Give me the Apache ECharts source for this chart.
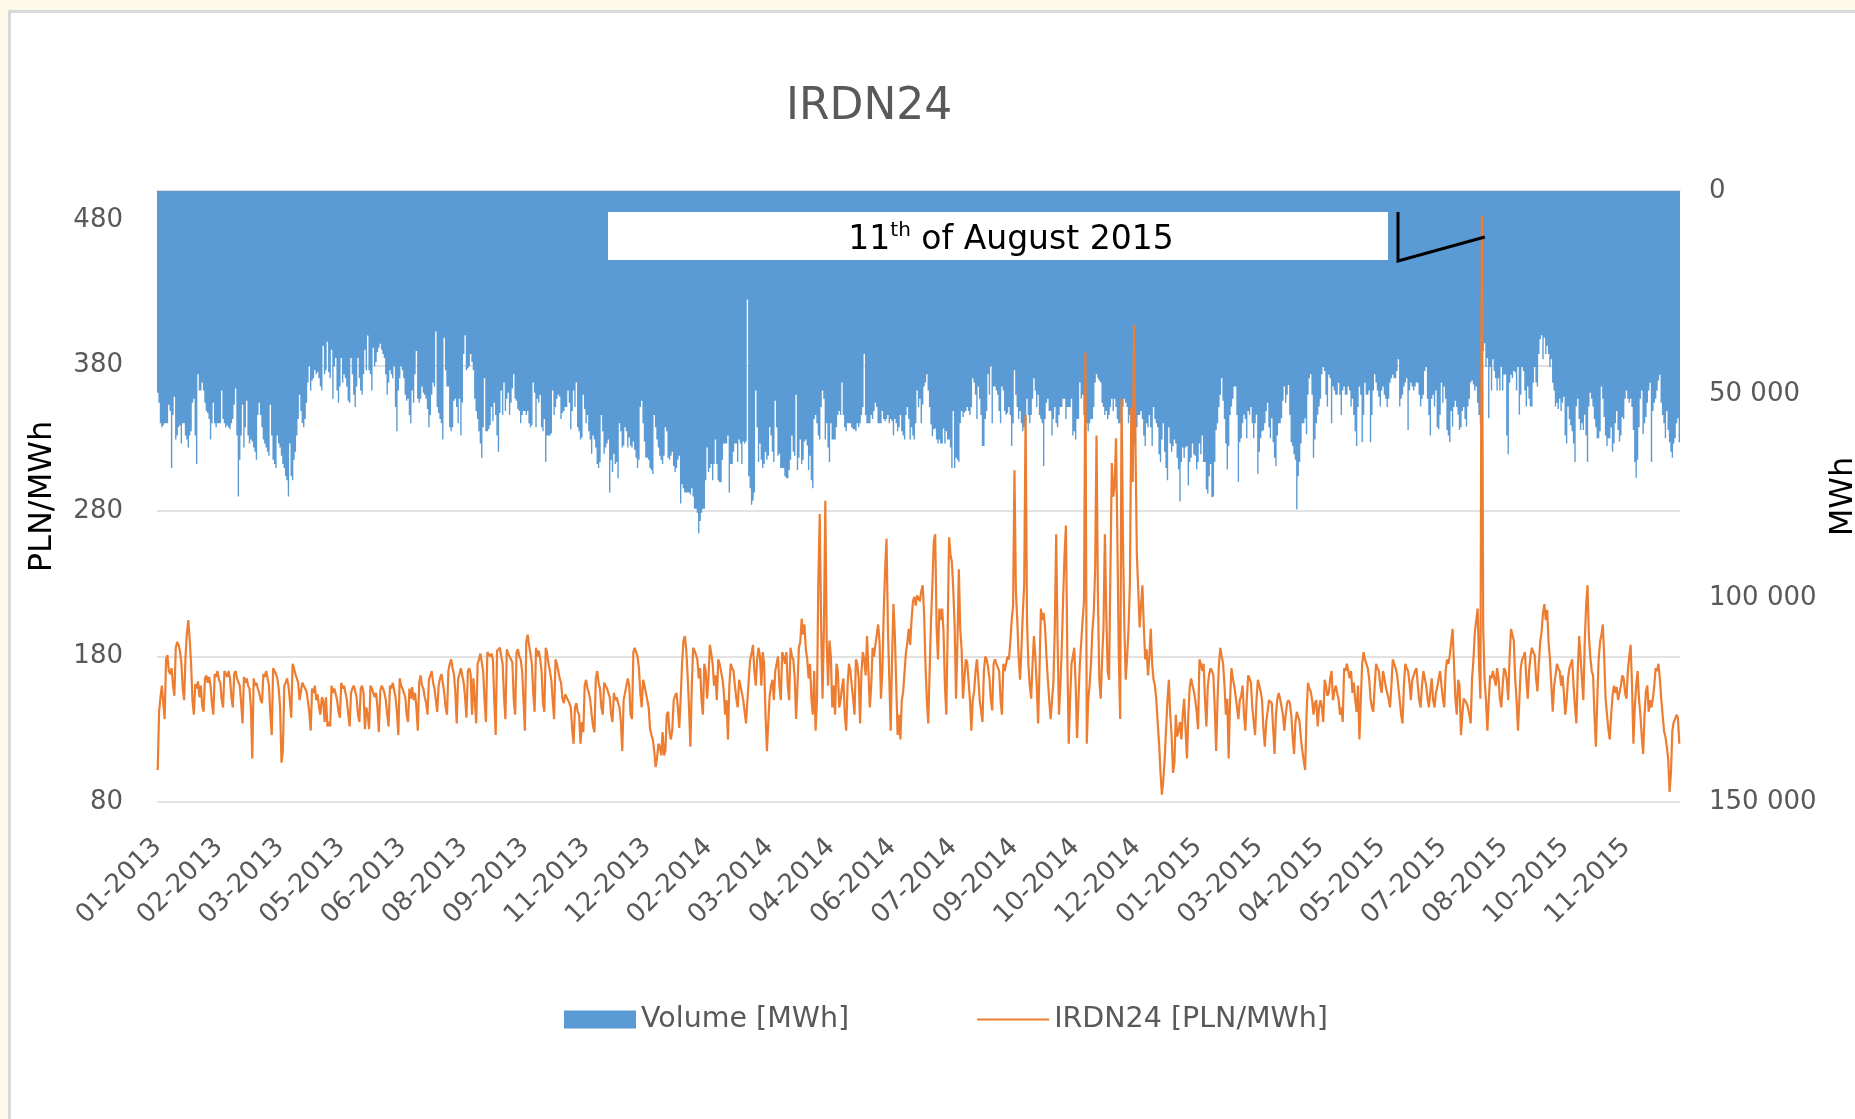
<!DOCTYPE html>
<html><head><meta charset="utf-8">
<script src="https://cdn.jsdelivr.net/npm/echarts@6/dist/echarts.min.js"></script>
<style>
html,body{margin:0;padding:0;background:#fdf9e9;overflow:hidden;width:1855px;height:1119px}
#frame{position:absolute;left:8px;top:10px;width:1900px;height:1200px;background:#fff;border-top:3px solid #d9d9d9;border-left:3px solid #d9d9d9}
#chart{position:absolute;left:0;top:0;width:1855px;height:1119px}
</style></head><body><div id="frame"></div><div id="chart"></div>
<script>
// Daily IRDN24 price [PLN/MWh]
const price2013 = [
102,142,152,160,148,137,
178,181,170,168,172,160,153,
186,190,188,184,176,158,150,
180,196,205,192,175,150,140,
161,158,163,152,160,146,142,
165,167,162,166,160,148,140,
168,166,170,164,162,150,145,
170,168,166,170,165,152,145,
168,170,165,164,160,148,134,
166,162,165,160,158,145,110,
165,160,162,158,155,150,148,
168,166,170,165,160,140,126,
172,170,168,165,158,145,107,
115,160,162,165,160,150,138,
175,172,168,165,162,150,151,
162,160,158,156,155,142,129,
158,155,160,150,154,145,140,
152,150,135,152,132,135,132,
160,155,158,154,150,142,138,
162,158,160,155,150,140,132,
155,158,160,156,152,140,135,
158,160,155,130,145,140,130,
160,158,155,152,155,145,128,
156,160,158,155,150,140,132,
160,158,162,157,152,142,126,
165,160,158,155,152,140,135,
158,151,159,150,155,145,129,
162,167,160,158,152,148,140,
164,165,170,162,158,150,142,
160,165,168,162,155,145,140,
170,175,178,172,168,155,134,
165,168,172,167,162,152,138,
170,172,168,140,165,150,134,
175,178,182,176,170,150,135,
183,184,180,182,178,150,126,
184,183,186,180,175,152,137,
185,182,180,178,176,150,140,
183,185,180,178,170,150,129,
190,195,188,182,175,155,142,
186,180,184,178,170,148,142,
186,182,175,170,164,150,137,
178,175,170,165,162,151,148,
154,152,150,148,145,130,120,
145,148,142,140,120,135,128,
160,164,158,155,150,140,132,
128,165,170,162,158,145,140,
162,160,158,155,152,140,135,
155,150,152,148,145,135,115,
150,155,160,165,160,140,137,
183,186,187,180,172,155,145,
164,160,155,150,145,130,126,
123,115,104,110,120,118,112,
128,112
];
const price2014 = [
115,140,142,128,123,130,150,153,155,145,131,151,175,191,194,185,167,145,118,160,186,184,183,178,165,172,150,140,175,170,151,
165,188,182,175,160,167,150,178,175,170,165,156,140,150,123,160,175,172,170,160,151,145,164,160,155,150,142,134,
150,165,178,182,188,170,160,178,186,180,160,183,175,140,115,135,153,160,164,150,170,175,180,160,150,183,180,175,183,160,150,
186,180,178,165,137,160,186,190,206,195,202,185,178,165,175,151,140,170,129,150,232,278,200,151,200,287,190,160,191,180,
145,160,140,175,170,145,150,159,165,140,129,160,175,170,160,151,140,178,175,165,134,170,183,178,167,194,170,145,160,186,180,
188,195,202,190,151,170,210,240,261,200,165,129,180,216,195,160,126,140,123,150,156,170,183,190,199,188,205,218,221,215,
222,220,218,225,229,210,175,150,134,170,205,230,259,264,200,178,213,205,213,197,160,140,200,262,250,245,226,200,151,190,240,
199,185,151,165,178,176,175,150,129,150,156,170,178,165,150,151,135,170,180,178,173,165,150,143,175,178,175,176,170,150,140,
175,170,175,180,178,190,205,215,308,225,205,180,164,185,210,230,346,205,175,160,151,175,194,180,160,134,170,213,205,210,
200,180,164,150,137,150,162,200,264,190,140,160,186,220,250,270,180,120,150,175,180,186,160,124,150,175,190,205,218,389,120,
150,160,175,197,210,240,332,220,164,151,178,200,264,210,170,164,240,313,290,297,330,260,180,137,357,260,200,164,180,199,
230,351,300,408,324,250,226,200,215,229,200,178,185,167,180,199,175,164,160,150,134,120,100,85,95,110,130,150,164,140,125
];
const price2015 = [
100,107,140,125,129,135,123,140,151,130,110,140,159,165,160,156,150,142,130,178,175,170,175,150,132,160,168,172,170,167,145,
115,150,175,186,180,175,160,140,151,110,150,172,165,160,153,145,137,150,153,160,140,129,150,167,165,162,145,135,
126,150,164,160,156,150,130,118,135,142,150,151,148,130,113,140,151,155,151,150,140,129,140,148,150,148,140,125,113,135,142,
142,135,123,115,108,102,140,162,158,156,150,140,148,150,132,145,150,145,135,164,160,153,155,165,170,150,156,160,155,151,
140,145,135,172,170,175,175,165,170,155,162,150,142,160,123,150,175,183,178,175,172,165,151,145,142,160,175,172,170,160,155,
170,165,159,155,151,145,160,178,175,172,168,167,150,140,134,160,175,172,170,162,150,164,165,170,172,160,150,145,160,170,
170,160,151,145,156,165,150,145,155,159,165,170,160,151,145,170,178,175,181,190,199,175,151,140,164,160,126,140,151,150,148,
145,140,134,165,178,197,205,213,175,151,483,200,164,150,129,150,167,165,170,170,160,172,165,151,145,160,172,170,164,150,180,
199,195,191,165,150,129,150,172,178,180,183,165,151,170,180,186,183,181,165,156,175,190,197,210,216,205,212,190,178,160,
142,160,167,175,172,170,160,167,155,140,150,165,172,175,178,160,145,134,170,194,180,164,150,190,215,229,194,180,170,167,140,
118,150,178,190,195,202,180,151,140,130,123,140,153,160,155,159,150,151,160,167,165,155,151,170,180,188,160,120,145,160,
170,151,140,125,113,140,156,160,142,150,145,151,160,172,170,175,165,151,140,129,125,118,110,87,100,129,135,137,140,138,120
];
// Daily traded volume, thousands of MWh
const volume2013k = [
49.5,52,57,58,57.5,57,57,57,52.5,54,68,55,50.5,61,60,58,57.5,62,57,57,60,61,63,60,59,52,51,60,67,45,49,
49,47,49,52,54,54.5,56,61,57,52,57,58,57,57,57,49,56,57,58,57.5,58,58.5,57,56,52.5,48.5,60,75,
66,60,52.5,63,58,51.5,60,62,61,61.5,63,64,66,55,52,55,58,61,62,63,64,65,52.5,60,66,67,68,60,62,63,65,
67,68,70,71,75,62,70,71,66,64,60,56,50,54,57,58,56,52,47,43,49,46.5,46,44,45,44.5,46,48,49,38,
45,44,37,44.5,46,39,51,43,41,49,52,48,41,47,45,46,48,51.5,52,41,45,50,53,48,41,46,49,50,45,39,44,
35.5,44,45,49,38.5,43,42,39.5,38.5,37.5,39,40,41,45,50,47,44,45,46,43,53,59,49,46,43,44,46,50,51.5,51,
55,57,49,52,45,39.3,51,52,51,48,49.5,50,51,53.5,58,55,50,47,48,34.5,53,54.5,56,57,61,36,44,48,48,58,59,
58,51.5,51,53,57,51,60,52,40,35.4,44,43.5,43,40,42,44,51,54,56,59,62,65.5,58,46,59,59,58.5,57.5,53,56.5,52,
55,60,64,54.5,49,55,47,54,51,49.5,55,52,48.5,45,51,51.5,53.5,54,57,55,54,54,55,54,57,58,57.5,47,49.5,58,
51,52,50,58,59,56,66.5,60,60,60,59.5,49,55,53,51,50,50.5,56,54.5,54,53,53,49,52,58.5,54,49,53,47,58,59,
61,60.5,50,53.5,57,55,59,61,64.5,60,61,63,67,68,66.5,55,59,64.5,63,62,61,74,66,69,64.5,67,66.5,70.5,57,59,
63,62.5,58,59,63,60.5,62.5,63,61.5,63.5,65.5,68,66,53,51.5,57,61.5,65.5,65.5,66,68,68.5,69.5,55,58,61,63,65,66,67,65
];
const volume2014k = [
58,59,65.5,66,65,64,67.5,69,68,66,65,76.7,72,73,74,74,74,74,74.5,73,75,78,78,79,84,81,79,78,78,71,63,
69,68,67,71,67,61,67,71,71.5,71.5,66,62,62,62,60,74,67,67,64,62,62,66.5,61,62,67,61.5,62,61.5,
26.7,70,73,77,76,74,49,58,66.5,62,66,68,67,64,66,65,58,60,64,66.5,51.5,58,65,64.5,68,68,68,70,70.5,70.5,68.5,
66,60,64,65,50,68.5,65.5,61,67,66,61.5,61,62.5,68.5,65,71,73,56,55,57,60,61,53,49,51,61,57,63,66.5,57,
61,61,61,58,55,54,55,47,55,58,59,57,57,57,58,58.5,58.5,59,57,58,57,55,53,40,55,57,57,57,55,56,54,
52,53,57,57,57,54,56,56.5,56,55,57,56,56.5,60,56,57,59,58,55,59,60,61,55,53,56,61,58,60,61,57,
49,53,51,57,52.5,48,47,45,49,53,57.3,60.2,58.5,58.3,61,62,61,62,62,58.3,62,59,61,61,63,68,54,68,65.5,66,66.5,
57,54,55.5,54.4,54,53,54,55,53,46,47,50,56,48,51,55,62.6,62.6,56,54,45,50,43,57,48,48,49,50,54,57,48,
49,54,55,54.5,53,55,62.6,57,44,50,53,56,54,57,59,58,57,51,55,57,55,51,46,49,53,50,55,56,57,67.5,
56,52,51,54,54,60,56,53,57,58,55,53,53,51,51,56,53,53,53,51,60,59,61,56,56,47,51,50,55,57,57,
59,57,56,56,53,47,45,46,46.5,47,52,53,55,54,56,55,53,51,54,51,53,56,57,57,52,53,51,52,53,57,
55,57,60,62,62.6,58,55,55,54,56,60,62.6,57,58,55,58,62.6,53,56,57,58,64.6,66.5,61,57,64,68,71,58,62,64
];
const volume2015k = [
62.6,61,62,65.5,68.4,76.2,66.5,63,65.5,63,62.6,72.3,66.5,65.5,62,64.6,65,68.4,66.5,62,64.6,60,66.5,66.5,73.3,74.3,70,67,75.2,75,66.5,
58.7,57,53,50,46,51.5,56,62,68.4,62.6,55,52.9,51,48,48,55,71.4,61.7,60.7,57,54.9,56,60.7,54,54.9,53,57,60.7,
57,54.9,69.4,64,60.7,59,58.7,57,54,52,58,60.7,55.8,61.7,65.5,67.5,60,57,57,55.8,51.5,48,52,50,47.6,54.9,61.7,62.6,64.6,66,78.2,
70,66.5,62,57,57,55.8,59.7,50,46,45,50,65.5,61,57,54.9,52.9,51,45,43.2,44.2,50,52.9,45.1,46,57,48,49,50,50,47.1,
50,55,49,48,50,50,48,49,52.9,51,55,59,62.6,53,48,50,61.7,55,47.1,50,50,49,61.7,55,49,45,47,49,50.5,52.9,49,
48,50,51,53,51,47.1,46,45.1,46,46,44.2,41.3,52.9,51,50,48,47,46,58.7,49,47.1,48,49,48,47,47.1,50,52.9,51,50,
44.2,43.2,51,55,60,51,50,52.9,49,58,58.5,54.9,47.1,52,48,51,58.7,60,61.7,54,57.8,53,51.5,53,54.9,58.7,58,54,53,56,57.8,
52.9,51,47,46.5,47.5,49,48,52,55,57,43.2,39.3,37.4,43.2,41,55.8,43.2,49,41.3,44.2,46,49,46,49,43.2,49,45.1,45,60,64.6,47.1,
45.1,46,44.2,44.5,49,43.2,54.9,50,43.2,44.2,49,52.9,48,51,52.9,52.9,47.1,43.2,47,48,40,36.4,35.4,41.3,36,40,38,40,43.2,41.3,
47.1,49,52.9,52,53.5,51,54,52,50.5,60,62,52.9,56,57.5,59,62,66.5,52.9,51,56,58.7,57,58.7,54.9,60,66.5,52.9,49.5,51,52.9,56,
58,60.7,60.7,59,48,51,55.5,60,62.6,60.7,60.7,58,64,62,57,54,58.7,61.5,60,55.5,56,51,49,51,52,51,53,58.7,66.5,70.4,
66,58,51,49,59.7,57,55.5,52,49,47.1,66.5,54,52,51,49,46.5,45.1,52,55,57,60.7,54,58.7,61.7,64,65.5,62,60.7,57,55.8,61.7
];
const priceTicks = [80, 180, 280, 380, 480];
const volumeTicks = [0, 50000, 100000, 150000];
const annotationDate = '2015-08-11';
const annotationText = ['11', 'th', ' of August 2015'];

// Categories: one per day, labelled MM-YYYY
const isoDates = [], categories = [];
for (let t = Date.UTC(2013, 0, 1); t <= Date.UTC(2015, 11, 31); t += 86400000) {
  const d = new Date(t);
  const mm = String(d.getUTCMonth() + 1).padStart(2, '0');
  isoDates.push(d.getUTCFullYear() + '-' + mm + '-' + String(d.getUTCDate()).padStart(2, '0'));
  categories.push(mm + '-' + d.getUTCFullYear());
}
const price = price2013.concat(price2014, price2015);
const volume = volume2013k.concat(volume2014k, volume2015k).map(v => Math.round(v * 1000));

const FONT = 'DejaVu Sans';
const GREY = '#595959';
const chart = echarts.init(document.getElementById('chart'), null, {renderer: 'canvas'});
const fmtSpace = v => String(v).replace(/\B(?=(\d{3})+(?!\d))/g, ' ');

chart.setOption({
  animation: false,
  textStyle: {fontFamily: FONT},
  title: {
    text: 'IRDN24', left: 781, top: 81,
    textStyle: {fontFamily: FONT, fontSize: 44, fontWeight: 'normal', color: GREY}
  },
  legend: {
    left: 559, top: 1000, itemWidth: 72, itemHeight: 18, itemGap: 128, symbolKeepAspect: true,
    textStyle: {fontFamily: FONT, fontSize: 28.5, color: GREY},
    data: [
      {name: 'Volume [MWh]', icon: 'rect'},
      {name: 'IRDN24 [PLN/MWh]', icon: 'path://M0,0H36V1H0Z'}
    ]
  },
  grid: {left: 157, right: 175, top: 191, bottom: 317, containLabel: false, outerBoundsMode: 'none'},
  xAxis: {
    type: 'category', data: categories, boundaryGap: true,
    axisTick: {show: false},
    axisLine: {show: true, lineStyle: {color: '#d9d9d9', width: 1.5}},
    axisLabel: {interval: 43, rotate: 45, margin: 41, fontFamily: FONT, fontSize: 26, color: GREY, hideOverlap: false}
  },
  yAxis: [{
    type: 'value', position: 'left', min: priceTicks[0], max: 500, interval: 100,
    name: 'PLN/MWh', nameLocation: 'middle', nameRotate: 90, nameGap: 98,
    nameTextStyle: {fontFamily: FONT, fontSize: 32, color: '#000'},
    axisLine: {show: false}, axisTick: {show: false},
    axisLabel: {margin: 34, fontFamily: FONT, fontSize: 26, color: GREY, showMaxLabel: false,
      formatter: v => priceTicks.indexOf(v) >= 0 ? String(v) : ''},
    splitLine: {show: true, lineStyle: {color: '#d9d9d9', width: 1.5}}
  }, {
    type: 'value', position: 'right', min: volumeTicks[0], max: volumeTicks[volumeTicks.length - 1],
    interval: 50000, inverse: true,
    name: 'MWh', nameLocation: 'middle', nameRotate: 90, nameGap: 141,
    nameTextStyle: {fontFamily: FONT, fontSize: 32, color: '#000'},
    axisLine: {show: false}, axisTick: {show: false}, splitLine: {show: false},
    axisLabel: {margin: 29, fontFamily: FONT, fontSize: 26, color: GREY, formatter: fmtSpace}
  }],
  series: [{
    name: 'Volume [MWh]', type: 'bar', yAxisIndex: 1, data: volume,
    barCategoryGap: '0%', barGap: '0%', large: true, largeThreshold: 200,
    itemStyle: {color: '#5b9bd5'}, z: 1
  }, {
    name: 'IRDN24 [PLN/MWh]', type: 'line', yAxisIndex: 0, data: price,
    showSymbol: false, symbol: 'none', lineStyle: {color: '#ed7d31', width: 2.2}, itemStyle: {color: '#ed7d31'}, z: 3
  }]
});

// Callout for the price spike
const spikeIdx = isoDates.indexOf(annotationDate);
const spikePx = chart.convertToPixel({xAxisIndex: 0, yAxisIndex: 0}, [spikeIdx, price[spikeIdx]]);
const boxL = 608, boxT = 212, boxW = 780, boxH = 48;
chart.setOption({
  graphic: [
    {type: 'rect', z: 10, shape: {x: boxL, y: boxT, width: boxW, height: boxH}, style: {fill: '#fff'}},
    {type: 'text', z: 11, x: 1011, y: boxT + boxH / 2 + 4,
      style: {
        text: '{n|' + annotationText[0] + '}{s|' + annotationText[1] + '}{n|' + annotationText[2] + '}',
        align: 'center', verticalAlign: 'middle', fill: '#000',
        rich: {
          n: {fontFamily: FONT, fontSize: 33, lineHeight: 38, fill: '#000'},
          s: {fontFamily: FONT, fontSize: 20, lineHeight: 38, verticalAlign: 'top', fill: '#000', padding: [0, 0, 12, 0]}
        }
      }},
    {type: 'polyline', z: 11, shape: {points: [[boxL + boxW + 10, boxT], [boxL + boxW + 10, boxT + boxH + 1], [spikePx[0] + 3, boxT + 25]]},
      style: {stroke: '#000', lineWidth: 3, fill: null}}
  ]
});
</script>
</body></html>
